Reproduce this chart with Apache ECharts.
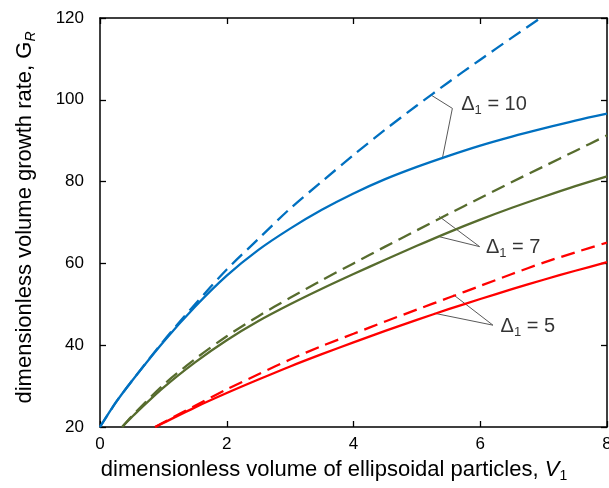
<!DOCTYPE html>
<html>
<head>
<meta charset="utf-8">
<script src="https://cdn.jsdelivr.net/npm/echarts@6/dist/echarts.min.js"></script>
<style>html,body{margin:0;padding:0;background:#fff;overflow:hidden;}#c{width:609px;height:488px;}</style>
</head>
<body>
<div id="c"></div>
<script>
// x values (dimensionless volume V1) and series values (G_R)
var blueX      = [0, 0.25, 0.5, 1, 1.5, 2, 2.5, 3, 3.5, 4, 4.5, 5, 5.5, 6, 6.5, 7, 7.5, 8];
var blueSolid  = [20, 26, 31.2, 40.8, 49.4, 57, 63.3, 68.5, 73.1, 77.1, 80.6, 83.6, 86.3, 88.8, 91.0, 93.0, 94.9, 96.6];
var blueDashX  = [0, 0.25, 0.5, 1, 1.5, 2, 2.5, 3, 3.5, 4, 4.5, 5, 5.5, 6, 6.5, 7];
var blueDashed = [20, 26, 31.2, 41, 50, 58.5, 66, 73.4, 80, 86.5, 92.7, 98.6, 104.3, 109.8, 115.2, 120.5];

var greenX      = [0.35, 0.5, 1, 1.5, 2, 2.5, 3, 3.5, 4, 4.5, 5, 5.5, 6, 6.5, 7, 7.5, 8];
var greenSolid  = [20, 22.4, 29.6, 35.8, 41.2, 45.9, 50.0, 53.8, 57.4, 60.9, 64.3, 67.6, 70.7, 73.6, 76.3, 78.9, 81.3];
var greenDashed = [20, 22.6, 30.3, 36.6, 42.2, 47.1, 51.6, 55.9, 60.0, 64.1, 68.1, 72.1, 76.0, 79.9, 83.7, 87.5, 91.3];

var redX      = [0.87, 1, 1.5, 2, 2.5, 3, 3.5, 4, 4.5, 5, 5.5, 6, 6.5, 7, 7.5, 8];
var redSolid  = [20, 21, 24.8, 28.3, 31.6, 34.8, 37.8, 40.7, 43.5, 46.2, 48.8, 51.3, 53.7, 56, 58.2, 60.3];
var redDashed = [20, 21.1, 25.2, 29.2, 32.9, 36.5, 39.8, 42.8, 45.8, 48.7, 51.6, 54.5, 57.4, 60.2, 62.7, 65.1];

// tick labels
var xTicks = [0, 2, 4, 6, 8];
var yTicks = [20, 40, 60, 80, 100, 120];

// annotation leader lines (data coordinates) and label anchors
var lead10 = [[5.22, 101.2], [5.56, 97.9], [5.40, 85.5]];
var lead7  = [[5.35, 71.5], [5.99, 64.1], [5.36, 66.5]];
var lead5  = [[5.58, 52.3], [6.20, 44.9], [5.28, 47.8]];
var labelPts = [[5.70, 98.8, '10'], [6.09, 63.8, '7'], [6.32, 44.5, '5']];

function zip(xs, ys) { return xs.map(function (x, i) { return [x, ys[i]]; }); }

var FONT = 'Liberation Sans, Arial, sans-serif';
var BLUE = '#0070C0', GREEN = '#576C2E', RED = '#FF0000';
var DASH = [14, 7];

function curve(data, color, dashed) {
  return {
    type: 'line', data: data, showSymbol: false, symbol: 'none', smooth: 0.3,
    clip: true, silent: true, z: 3,
    lineStyle: { color: color, width: 2.3, type: dashed ? DASH : 'solid' }
  };
}
function leader(data) {
  return {
    type: 'line', data: data, showSymbol: false, symbol: 'none', silent: true, z: 2,
    lineStyle: { color: '#595959', width: 1 }
  };
}

var chart = echarts.init(document.getElementById('c'), null, { renderer: 'canvas', width: 609, height: 488 });
var axisLineStyle = { color: '#000', width: 1.5 };
var tickStyle = { show: true, inside: true, length: 6, lineStyle: { color: '#000', width: 1.3 } };
chart.setOption({
  animation: false,
  backgroundColor: '#fff',
  grid: { left: 100, top: 18, right: 2, bottom: 61, containLabel: false, outerBoundsMode: 'none' },
  xAxis: [{
    type: 'value', min: 0, max: 8, interval: 2, position: 'bottom',
    axisLine: { show: true, onZero: false, lineStyle: axisLineStyle },
    axisTick: tickStyle,
    splitLine: { show: false },
    axisLabel: { fontFamily: FONT, fontSize: 17, color: '#000', margin: 9,
      formatter: function (v) { return xTicks.indexOf(v) >= 0 ? String(v) : ''; } },
    name: '{n|dimensionless volume of ellipsoidal particles, }{i|V}{s|1}',
    nameLocation: 'middle', nameGap: 30,
    nameTextStyle: { padding: [0, 39, 0, 0],
      rich: {
        n: { fontFamily: FONT, fontSize: 22, color: '#000', lineHeight: 26, verticalAlign: 'middle' },
        i: { fontFamily: FONT, fontSize: 22, fontStyle: 'italic', color: '#000', lineHeight: 26, verticalAlign: 'middle' },
        s: { fontFamily: FONT, fontSize: 14, color: '#000', verticalAlign: 'bottom', lineHeight: 14 }
      } }
  }, {
    type: 'value', min: 0, max: 8, interval: 2, position: 'top',
    axisLine: { show: true, onZero: false, lineStyle: axisLineStyle },
    axisTick: tickStyle,
    splitLine: { show: false }, axisLabel: { show: false }
  }],
  yAxis: [{
    type: 'value', min: 20, max: 120, interval: 20, position: 'left',
    axisLine: { show: true, onZero: false, lineStyle: axisLineStyle },
    axisTick: tickStyle,
    splitLine: { show: false },
    axisLabel: { fontFamily: FONT, fontSize: 17, color: '#000', margin: 16,
      formatter: function (v) { return yTicks.indexOf(v) >= 0 ? String(v) : ''; } },
    name: '{n|dimensionless volume growth rate, G}{s|R}',
    nameLocation: 'middle', nameGap: 62, nameRotate: 90,
    nameTextStyle: { padding: [0, 0, 0, 10],
      rich: {
        n: { fontFamily: FONT, fontSize: 22, color: '#000', lineHeight: 26, verticalAlign: 'middle' },
        s: { fontFamily: FONT, fontSize: 14, fontStyle: 'italic', color: '#000', verticalAlign: 'bottom', lineHeight: 14 }
      } }
  }, {
    type: 'value', min: 20, max: 120, interval: 20, position: 'right',
    axisLine: { show: true, onZero: false, lineStyle: axisLineStyle },
    axisTick: tickStyle,
    splitLine: { show: false }, axisLabel: { show: false }
  }],
  series: [
    curve(zip(blueX, blueSolid), BLUE, false),
    curve(zip(blueDashX, blueDashed), BLUE, true),
    curve(zip(greenX, greenSolid), GREEN, false),
    curve(zip(greenX, greenDashed), GREEN, true),
    curve(zip(redX, redSolid), RED, false),
    curve(zip(redX, redDashed), RED, true),
    leader(lead10), leader(lead7), leader(lead5),
    {
      type: 'scatter', symbolSize: 0, silent: true, z: 4,
      data: labelPts.map(function (p) { return { value: [p[0], p[1]], name: p[2] }; }),
      label: {
        show: true, position: 'right', distance: 0,
        formatter: function (p) { return '{d|\u0394}{s|1}{d| = ' + p.name + '}'; },
        rich: {
          d: { fontFamily: FONT, fontSize: 20, color: '#000', lineHeight: 24, verticalAlign: 'middle' },
          s: { fontFamily: FONT, fontSize: 13, color: '#000', verticalAlign: 'bottom', lineHeight: 13 }
        }
      }
    }
  ]
});
</script>
</body>
</html>
